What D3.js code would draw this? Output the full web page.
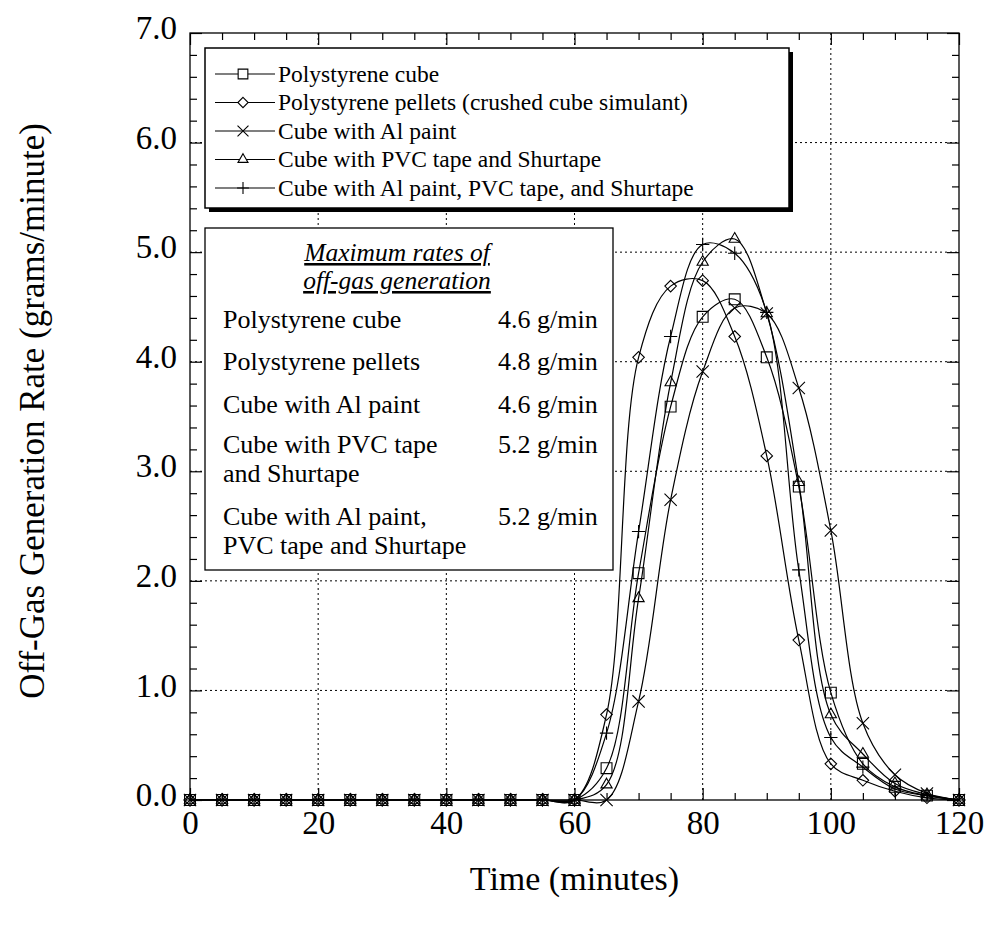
<!DOCTYPE html>
<html>
<head>
<meta charset="utf-8">
<script src="https://cdn.jsdelivr.net/npm/d3@7"></script>
<style>
body { margin:0; background:#fff; }
svg text { font-family:"Liberation Serif","Times New Roman",serif; fill:#000; }
</style>
</head>
<body>
<script>
//data (grams/minute every 5 minutes)//
var times = [0,5,10,15,20,25,30,35,40,45,50,55,60,65,70,75,80,85,90,95,100,105,110,115,120];
var cube     = [0,0,0,0,0,0,0,0,0,0,0,0,0, 0.29,2.07,3.59,4.41,4.57,4.04,2.86,0.98,0.33,0.12,0.04,0];
var pellets  = [0,0,0,0,0,0,0,0,0,0,0,0,0, 0.78,4.04,4.69,4.74,4.23,3.14,1.46,0.33,0.18,0.08,0.02,0];
var alPaint  = [0,0,0,0,0,0,0,0,0,0,0,0,0, 0.00,0.90,2.74,3.91,4.49,4.44,3.76,2.46,0.70,0.23,0.06,0];
var pvcTape  = [0,0,0,0,0,0,0,0,0,0,0,0,0, 0.14,1.84,3.81,4.91,5.12,4.44,2.90,0.78,0.42,0.15,0.05,0];
var alPvc    = [0,0,0,0,0,0,0,0,0,0,0,0,0, 0.61,2.45,4.23,5.07,4.99,4.45,2.10,0.57,0.30,0.10,0.04,0];

var seriesNames = ["Polystyrene cube",
                   "Polystyrene pellets (crushed cube simulant)",
                   "Cube with Al paint",
                   "Cube with PVC tape and Shurtape",
                   "Cube with Al paint, PVC tape, and Shurtape"];

var xTicks = [0,20,40,60,80,100,120];
var yTicks = [0,1,2,3,4,5,6,7];

//inset table//
var insetTitle = ["Maximum rates of", "off-gas generation"];
var insetLabels = [["Polystyrene cube"], ["Polystyrene pellets"], ["Cube with Al paint"],
                   ["Cube with PVC tape", "and Shurtape"],
                   ["Cube with Al paint,", "PVC tape and Shurtape"]];
var insetValues = ["4.6 g/min", "4.8 g/min", "4.6 g/min", "5.2 g/min", "5.2 g/min"];

//margins
var margin = {top:33, right:29, bottom:129, left:190},
    width = 988 - margin.left - margin.right,
    height = 929 - margin.top - margin.bottom;

var svg = d3.select("body").append("svg")
    .attr("width", 988)
    .attr("height", 929);

var g = svg.append("g")
    .attr("transform", "translate(" + margin.left + "," + margin.top + ")");

var x = d3.scaleLinear().domain([0,120]).range([0,width]);
var y = d3.scaleLinear().domain([0,7]).range([height,0]);

//dotted grid
g.selectAll(".vgrid").data(xTicks.slice(1,-1)).enter().append("line")
    .attr("x1", function(d){ return x(d); }).attr("x2", function(d){ return x(d); })
    .attr("y1", 0).attr("y2", height)
    .attr("stroke", "#000").attr("stroke-width", 1).attr("stroke-dasharray", "2,3");
g.selectAll(".hgrid").data(yTicks.slice(1,-1)).enter().append("line")
    .attr("y1", function(d){ return y(d); }).attr("y2", function(d){ return y(d); })
    .attr("x1", 0).attr("x2", width)
    .attr("stroke", "#000").attr("stroke-width", 1).attr("stroke-dasharray", "2,3");

//axes - ticks point inward on all four sides
var xMinor = d3.range(0,121,5).filter(function(d){ return d % 20 !== 0; });
var yMinor = d3.range(0,36).map(function(i){ return i/5; }).filter(function(d){ return i5(d); });
function i5(d){ return Math.abs(d - Math.round(d)) > 0.01; }

function styleAxis(sel){
    sel.select(".domain").remove();
    sel.selectAll("line").attr("stroke", "#000").attr("stroke-width", 1.2);
    sel.selectAll("text").style("font-size", "33px");
}

g.append("g").attr("transform", "translate(0," + height + ")")
    .call(d3.axisBottom(x).tickValues(xTicks).tickSize(-12).tickPadding(11).tickFormat(d3.format("d")))
    .call(styleAxis);
g.append("g").attr("transform", "translate(0," + height + ")")
    .call(d3.axisBottom(x).tickValues(xMinor).tickSize(-7).tickFormat(""))
    .call(styleAxis);
g.append("g")
    .call(d3.axisTop(x).tickValues(xTicks).tickSize(-12).tickFormat(""))
    .call(styleAxis);
g.append("g")
    .call(d3.axisTop(x).tickValues(xMinor).tickSize(-7).tickFormat(""))
    .call(styleAxis);

g.append("g")
    .call(d3.axisLeft(y).tickValues(yTicks).tickSize(-12).tickPadding(13).tickFormat(d3.format(".1f")))
    .call(styleAxis)
    .selectAll("text").attr("dy", "0.17em");
g.append("g")
    .call(d3.axisLeft(y).tickValues(yMinor).tickSize(-7).tickFormat(""))
    .call(styleAxis);
g.append("g").attr("transform", "translate(" + width + ",0)")
    .call(d3.axisRight(y).tickValues(yTicks).tickSize(-12).tickFormat(""))
    .call(styleAxis);
g.append("g").attr("transform", "translate(" + width + ",0)")
    .call(d3.axisRight(y).tickValues(yMinor).tickSize(-7).tickFormat(""))
    .call(styleAxis);

//frame
g.append("rect").attr("width", width).attr("height", height)
    .attr("fill", "none").attr("stroke", "#000").attr("stroke-width", 1.3);

//series table
var series = [
    {name: seriesNames[0], values: cube,    symbol: d3.symbolSquare2,   size: 150},
    {name: seriesNames[1], values: pellets, symbol: d3.symbolDiamond2,  size: 85},
    {name: seriesNames[2], values: alPaint, symbol: d3.symbolTimes,     size: 100},
    {name: seriesNames[3], values: pvcTape, symbol: d3.symbolTriangle2, size: 90},
    {name: seriesNames[4], values: alPvc,   symbol: d3.symbolPlus,      size: 60}
];

var line = d3.line()
    .x(function(d){ return x(d[0]); })
    .y(function(d){ return y(d[1]); })
    .curve(d3.curveCatmullRom.alpha(0.5));

series.forEach(function(s){
    var pts = times.map(function(t,i){ return [t, s.values[i]]; });
    g.append("path").datum(pts)
        .attr("d", line)
        .attr("fill", "none").attr("stroke", "#000").attr("stroke-width", 1.2);
    g.selectAll(null).data(pts).enter().append("path")
        .attr("transform", function(d){ return "translate(" + x(d[0]) + "," + y(d[1]) + ")"; })
        .attr("d", d3.symbol().type(s.symbol).size(s.size))
        .attr("fill", "none").attr("stroke", "#000").attr("stroke-width", 1.1);
});

//legend box with shadow
var leg = g.append("g").attr("transform", "translate(15,15)");
leg.append("rect").attr("x", 4).attr("y", 4).attr("width", 584).attr("height", 160).attr("fill", "#000");
leg.append("rect").attr("width", 584).attr("height", 160)
    .attr("fill", "#fff").attr("stroke", "#000").attr("stroke-width", 1.5);
series.forEach(function(s, i){
    var cy = 26 + i*28.5;
    leg.append("line").attr("x1", 10).attr("x2", 70).attr("y1", cy).attr("y2", cy)
        .attr("stroke", "#000").attr("stroke-width", 1.1);
    leg.append("path").attr("transform", "translate(38," + cy + ")")
        .attr("d", d3.symbol().type(s.symbol).size(s.size * 0.8))
        .attr("fill", "#fff").attr("stroke", "#000").attr("stroke-width", 1.1);
    leg.append("text").attr("x", 73).attr("y", cy).attr("dy", "0.34em")
        .style("font-size", "23.5px").text(s.name);
});

//inset box of maximum rates
var inset = g.append("g").attr("transform", "translate(15,195)");
inset.append("rect").attr("width", 408).attr("height", 342)
    .attr("fill", "#fff").attr("stroke", "#000").attr("stroke-width", 1.3);
inset.selectAll(".ttl").data(insetTitle).enter().append("text")
    .attr("x", 192).attr("y", function(d,i){ return 33 + i*28; })
    .attr("text-anchor", "middle")
    .style("font-size", "25.5px").style("font-style", "italic").style("text-decoration", "underline")
    .text(function(d){ return d; });
var rowY = [100, 142, 185, 225, 297];
insetLabels.forEach(function(lines, i){
    lines.forEach(function(t, j){
        inset.append("text").attr("x", 18).attr("y", rowY[i] + j*28.5)
            .style("font-size", "26px").text(t);
    });
    inset.append("text").attr("x", 293).attr("y", rowY[i])
        .style("font-size", "26px").text(insetValues[i]);
});

//axis titles
svg.append("text")
    .attr("transform", "translate(44," + 411 + ") rotate(-90)")
    .attr("text-anchor", "middle")
    .style("font-size", "35px")
    .text("Off-Gas Generation Rate (grams/minute)");
svg.append("text")
    .attr("x", margin.left + width/2).attr("y", 890)
    .attr("text-anchor", "middle")
    .style("font-size", "34px")
    .text("Time (minutes)");
</script>
</body>
</html>
